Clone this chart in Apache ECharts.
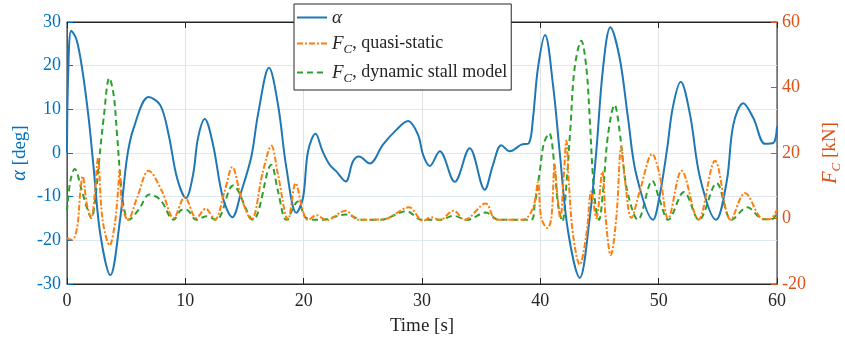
<!DOCTYPE html>
<html>
<head>
<meta charset="utf-8">
<script src="https://cdn.jsdelivr.net/npm/echarts@6/dist/echarts.min.js"></script>
<style>
  html, body { margin: 0; padding: 0; background: #fff; }
  #chart { width: 845px; height: 344px; }
</style>
</head>
<body>
<div id="chart"></div>
<script>
// angle of attack [deg]
const timeAlpha = [0, 0.1, 0.36, 0.8, 1.27, 1.83, 2.25, 2.82, 3.66, 4.5, 5.07, 5.63, 6.9, 7.89, 8.59, 9.3, 10.05, 10.65, 11.07, 11.64, 12.34, 13.18, 13.97, 14.73, 15.58, 16.14, 17.07, 17.83, 18.54, 19.38, 19.94, 20.37, 21.0, 21.6, 22.2, 22.76, 23.55, 24.17, 24.68, 25.58, 26.7, 27.83, 28.82, 29.66, 30.1, 30.65, 31.5, 32.76, 34.03, 35.3, 36.0, 36.7, 37.41, 38.4, 39.04, 39.38, 39.8, 40.4, 41.07, 41.63, 42.34, 43.33, 44.17, 44.73, 45.3, 45.92, 46.7, 47.41, 48.11, 49.52, 50.1, 50.7, 51.2, 51.86, 52.65, 53.5, 54.85, 55.75, 56.31, 57.15, 58.0, 58.99, 59.69, 60];
const alphaDeg = [0, 18, 28, 26, 19.5, 8, -3.4, -18.7, -28, -14.9, -1.1, 5.7, 12.8, 10.9, 4.2, -5.7, -10.3, -5, 3.4, 7.8, 1.9, -10.3, -14.7, -8.8, -0.8, 8.8, 19.5, 11.1, -3.4, -13.7, -10.3, 0.4, 4.4, 0.4, -2.7, -4.2, -6.5, -1.9, -0.8, -2.4, 1.9, 5.3, 7.3, 4.2, -0.5, -3, 0.4, -6.6, 1.1, -8.4, -2.7, 1.8, 0.4, 1.9, 2.3, 8, 19.5, 27, 15.6, 0.4, -17.9, -28.6, -14.9, 0.4, 19.5, 28.8, 21.8, 8, -5, -15.3, -9.5, 0.7, 10.5, 16.3, 8.8, -5.7, -15.3, -6.5, 6.5, 11.4, 8, 2.1, 2.3, 6.1];

// F_C quasi-static [kN]
const timeQs = [0, 0.42, 0.85, 1.13, 1.32, 1.69, 2.06, 2.34, 2.62, 2.9, 3.18, 3.6, 4.03, 4.31, 4.45, 4.65, 5.15, 5.92, 6.9, 8.03, 9.01, 9.95, 10.93, 11.72, 12.48, 13.32, 13.97, 14.73, 15.58, 16.56, 17.27, 17.83, 18.68, 19.32, 19.94, 20.37, 21.07, 21.92, 23.55, 24.59, 26.7, 28.9, 30.08, 30.79, 31.5, 32.68, 33.6, 35.38, 36.28, 38.5, 39.38, 39.8, 40.08, 40.6, 40.93, 41.21, 41.41, 41.69, 41.97, 42.2, 42.42, 42.76, 43.33, 43.89, 44.31, 44.73, 45.24, 45.52, 45.95, 46.42, 46.84, 47.13, 47.69, 48.4, 49.46, 50.08, 50.8, 51.94, 53.35, 54.76, 56.09, 57.3, 58.85, 59.4, 60];
const fcQuasi = [-6, -6.5, -2.9, 8.3, 12.9, 4.2, 0.15, 7.3, 18.5, 3.2, -3.9, -8.2, -1.9, 8.3, 14.9, 4.2, -0.4, 6.3, 14.6, 8.3, 0.15, 6.5, 0.15, 3, -0.4, 8.3, 15.7, 6.3, -0.4, 14.4, 22.2, 13.4, -0.4, 10.8, 2.2, -0.4, 1, -0.5, 2.4, -0.4, -0.3, 3.4, -0.7, 0.4, -0.4, 2.4, -0.4, 4.6, -0.4, -0.4, 3.2, 11.1, 0.15, -2.9, 0.15, 16.4, 8.3, 0.15, 12.4, 23.8, 10.3, -4.9, -14.1, -4.9, 8.3, 0.15, 14.4, 0.15, -11.2, 0.15, 22, 12.4, 0.15, 8.3, 19.7, 13.4, 0, 14.6, -0.4, 17.6, -0.4, 7.8, -0.2, -0.2, 2.7];

// F_C dynamic stall model [kN]
const timeDs = [0, 0.28, 0.65, 1.27, 1.69, 2.06, 2.4, 2.68, 3.1, 3.58, 3.94, 4.23, 4.51, 4.79, 5.21, 6.06, 6.96, 7.89, 9.01, 9.72, 10.08, 10.93, 11.77, 12.62, 14.03, 15.72, 17.27, 17.83, 18.54, 19.52, 20.22, 21.5, 23.55, 25.0, 26.5, 28.68, 30.0, 31.5, 32.68, 33.8, 35.38, 36.5, 39.2, 39.52, 39.94, 40.3, 40.75, 41.21, 41.5, 41.86, 42.2, 42.54, 42.9, 43.46, 43.89, 44.17, 44.45, 44.73, 44.96, 45.3, 45.72, 46.28, 46.7, 46.98, 47.41, 48.25, 49.46, 50.08, 50.8, 52.14, 53.4, 54.9, 56.17, 57.5, 58.85, 59.6, 60];
const fcDynamic = [2.2, 11.4, 15.1, 8.3, 3.2, 0.15, 6.3, 16.4, 30.7, 42.9, 37.8, 25.6, 12.4, 3.7, -0.4, 2.7, 7.3, 5.7, -0.4, 2.7, 2.7, -0.4, 0.7, -0.4, 10.1, -0.4, 16.4, 8.3, -0.4, 5.2, 0.15, -0.4, 1.2, -0.4, -0.4, 2.2, -0.4, -0.4, 0.8, -0.4, 1.8, -0.4, -0.4, 4.2, 14, 23, 26, 15.4, 4.2, -0.9, 10.3, 27.6, 46, 54.3, 46, 30.7, 12.4, 2.2, -0.4, 8.3, 25.6, 34.7, 26.6, 17.5, 7.3, -0.4, 11.5, 5.7, -0.4, 8.1, -0.4, 10.8, -0.4, 3.4, -0.2, -0.2, 2];

const timeTicks = [0, 10, 20, 30, 40, 50, 60];
const alphaTicks = [-30, -20, -10, 0, 10, 20, 30];
const forceTicks = [-20, 0, 20, 40, 60];

const pairs = (xs, ys) => xs.map((x, i) => [x, ys[i]]);

const FONT = '"Liberation Serif", "DejaVu Serif", serif';
const BLUE_AX = '#0072BD';
const RED_AX = '#D95319';
const DARK = '#262626';

const chart = echarts.init(document.getElementById('chart'));

const legendNames = {
  'alpha': '{i|α}',
  'qs': '{i|F}{s|C}, quasi-static',
  'ds': '{i|F}{s|C}, dynamic stall model'
};

chart.setOption({
  backgroundColor: '#fff',
  animation: false,
  grid: {
    left: 67, right: 68, top: 22, bottom: 60,
    outerBoundsMode: 'none', containLabel: false,
    show: true, borderColor: DARK, borderWidth: 1
  },
  legend: {
    left: 294, top: 4,
    orient: 'vertical',
    itemWidth: 30, itemHeight: 14, itemGap: 7,
    padding: [4, 4, 5, 2],
    backgroundColor: '#fff',
    borderColor: DARK, borderWidth: 1, borderRadius: 0,
    itemStyle: { opacity: 0 },
    formatter: name => legendNames[name],
    textStyle: {
      fontFamily: FONT, fontSize: 18, color: DARK,
      rich: {
        i: { fontFamily: FONT, fontSize: 19, fontStyle: 'italic', color: DARK },
        s: { fontFamily: FONT, fontSize: 13, fontStyle: 'italic', color: DARK, padding: [12, 0, 0, 0] }
      }
    },
    data: ['alpha', 'qs', 'ds']
  },
  xAxis: [{
    type: 'value', min: 0, max: 60, interval: 10,
    name: 'Time [s]', nameLocation: 'middle', nameGap: 33, nameMoveOverlap: false,
    nameTextStyle: { fontFamily: FONT, fontSize: 19, color: DARK },
    axisLine: { show: true, onZero: false, lineStyle: { color: DARK } },
    axisTick: { show: true, inside: true, length: 6, lineStyle: { color: DARK } },
    axisLabel: {
      fontFamily: FONT, fontSize: 18, color: DARK, margin: 8,
      formatter: v => timeTicks.includes(v) ? String(v) : ''
    },
    splitLine: { show: true, lineStyle: { color: '#e2e2e2', width: 1 } }
  }, {
    type: 'value', min: 0, max: 60, interval: 10, position: 'top',
    axisLine: { show: true, onZero: false, lineStyle: { color: DARK } },
    axisTick: { show: true, inside: true, length: 6, lineStyle: { color: DARK } },
    axisLabel: { show: false },
    splitLine: { show: false }
  }],
  yAxis: [{
    type: 'value', min: -30, max: 30, interval: 10, position: 'left',
    name: '{a|α} [deg]', nameLocation: 'middle', nameGap: 37, nameRotate: 90, nameMoveOverlap: false,
    nameTextStyle: {
      fontFamily: FONT, fontSize: 19, color: BLUE_AX,
      rich: { a: { fontFamily: FONT, fontSize: 20, fontStyle: 'italic', color: BLUE_AX } }
    },
    axisLine: { show: true, onZero: false, lineStyle: { color: BLUE_AX } },
    axisTick: { show: true, inside: true, length: 6, lineStyle: { color: BLUE_AX } },
    axisLabel: {
      fontFamily: FONT, fontSize: 18, color: BLUE_AX, margin: 6,
      formatter: v => alphaTicks.includes(v) ? String(v) : ''
    },
    splitLine: { show: true, lineStyle: { color: '#dde8f2', width: 1 } }
  }, {
    type: 'value', min: -20, max: 60, interval: 20, position: 'right',
    name: '{i|F}{s|C} [kN]', nameLocation: 'middle', nameGap: 41, nameRotate: 90, nameMoveOverlap: false,
    nameTextStyle: {
      fontFamily: FONT, fontSize: 19, color: RED_AX,
      rich: {
        i: { fontFamily: FONT, fontSize: 20, fontStyle: 'italic', color: RED_AX },
        s: { fontFamily: FONT, fontSize: 13, fontStyle: 'italic', color: RED_AX, padding: [12, 0, 0, 0] }
      }
    },
    axisLine: { show: true, onZero: false, lineStyle: { color: RED_AX } },
    axisTick: { show: true, inside: true, length: 6, lineStyle: { color: RED_AX } },
    axisLabel: {
      fontFamily: FONT, fontSize: 18, color: RED_AX, margin: 5,
      formatter: v => forceTicks.includes(v) ? String(v) : ''
    },
    splitLine: { show: false }
  }],
  series: [{
    name: 'alpha', type: 'line', yAxisIndex: 0,
    data: pairs(timeAlpha, alphaDeg),
    smooth: 0.35, symbol: 'none',
    lineStyle: { color: '#1f77b4', width: 2 },
    itemStyle: { color: '#1f77b4' },
    z: 3
  }, {
    name: 'qs', type: 'line', yAxisIndex: 1,
    data: pairs(timeQs, fcQuasi),
    smooth: 0.35, symbol: 'none',
    lineStyle: { color: '#ff7f0e', width: 2, type: [6, 2, 2, 2] },
    itemStyle: { color: '#ff7f0e' },
    z: 4
  }, {
    name: 'ds', type: 'line', yAxisIndex: 1,
    data: pairs(timeDs, fcDynamic),
    smooth: 0.35, symbol: 'none',
    lineStyle: { color: '#2ca02c', width: 2, type: [6, 4] },
    itemStyle: { color: '#2ca02c' },
    z: 2
  }]
});
</script>
</body>
</html>
